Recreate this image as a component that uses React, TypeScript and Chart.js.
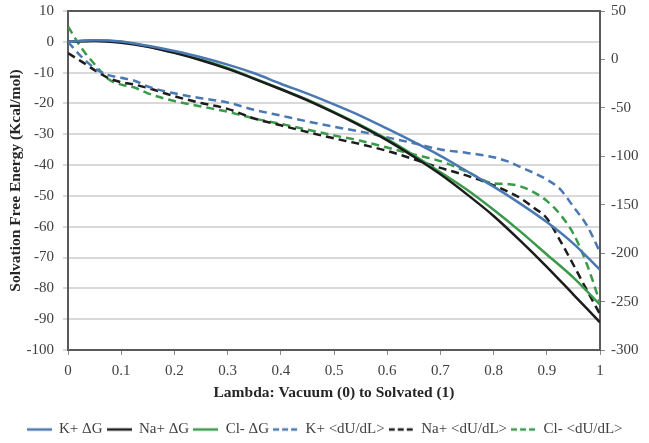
import { useEffect, useRef } from "react";
import { Chart, registerables } from "chart.js";

Chart.register(...registerables);

// Lambda values (x) for the free-energy curves
const lambdaG = [0, 0.05, 0.1, 0.15, 0.2, 0.25, 0.3, 0.35, 0.4, 0.45, 0.5, 0.55, 0.6, 0.65, 0.7, 0.75, 0.8, 0.85, 0.9, 0.95, 1];
const kG = [0, 0.5, 0.1, -1.3, -3.0, -5.0, -7.4, -10.2, -13.6, -16.8, -20.3, -24, -28.2, -32.5, -37, -42, -47, -52.5, -58.5, -65.5, -74];
const naG = [0, 0.3, -0.3, -1.6, -3.6, -6.0, -8.8, -12.0, -15.4, -19, -23, -27.3, -32, -37.3, -43, -49.5, -56.5, -64.5, -73, -82, -91];
const clG = [0, 0.5, 0, -1.5, -3.5, -5.8, -8.5, -11.9, -15.3, -18.8, -22.8, -27, -31.6, -36.8, -42.3, -48, -54.5, -61.5, -69, -76.5, -85.3];

// Lambda values (x) for the <dU/dL> curves
const lambdaU = [0, 0.025, 0.05, 0.075, 0.1, 0.125, 0.15, 0.2, 0.25, 0.3, 0.35, 0.4, 0.45, 0.5, 0.55, 0.6, 0.65, 0.7, 0.75, 0.8, 0.825, 0.85, 0.875, 0.9, 0.925, 0.95, 0.975, 1];
const kU = [18, 3, -9, -16, -19, -22, -28, -35, -40, -44.5, -52, -58, -64, -69.5, -74.5, -80.5, -86.5, -93, -96.5, -101, -105, -111, -117, -124, -134, -152, -171, -199];
const naU = [6.5, -2, -11, -19, -23.5, -26, -29.5, -38, -45, -51, -61, -68, -75, -81.5, -87.5, -94.5, -103, -112, -120, -130, -136, -143, -153, -164, -187, -212, -238, -263];
const clU = [34, 12, -5, -20, -26, -29, -35, -43, -48.5, -54, -61, -66.5, -72.5, -78.5, -84, -91, -98, -105, -116, -128, -128.5, -131, -137, -146, -160, -180, -211, -251];

const seriesLabels = ["K+ ΔG", "Na+ ΔG", "Cl- ΔG", "K+ <dU/dL>", "Na+ <dU/dL>", "Cl- <dU/dL>"];

const BLUE = "#4a78b2";
const BLACK = "#1c1c1c";
const GREEN = "#3a9a4a";
const DASH = [8, 5];

const toPts = (xs: number[], ys: number[]) => xs.map((x, i) => ({ x, y: ys[i] }));

function lineSample(color: string, dashed: boolean) {
  const c = document.createElement("canvas");
  c.width = 25;
  c.height = 6;
  const g = c.getContext("2d")!;
  g.strokeStyle = color;
  g.lineWidth = 2.5;
  if (dashed) g.setLineDash([6, 3]);
  g.beginPath();
  g.moveTo(0, 3);
  g.lineTo(25, 3);
  g.stroke();
  return c;
}

export default function App() {
  const ref = useRef<HTMLCanvasElement>(null);

  useEffect(() => {
    if (!ref.current) return;
    const font = "'Liberation Serif', 'Times New Roman', serif";
    const framePlugin = {
      id: "frame",
      beforeDatasetsDraw(chart: any) {
        const { ctx, chartArea: a } = chart;
        ctx.save();
        ctx.strokeStyle = "#5a5a5a";
        ctx.lineWidth = 2;
        ctx.strokeRect(a.left, a.top, a.right - a.left, a.bottom - a.top);
        ctx.restore();
      },
    };
    const common = { pointRadius: 0, borderWidth: 2.5, fill: false, cubicInterpolationMode: "monotone" as const };
    const samples = [
      lineSample(BLUE, false), lineSample(BLACK, false), lineSample(GREEN, false),
      lineSample(BLUE, true), lineSample(BLACK, true), lineSample(GREEN, true),
    ];
    const chart = new Chart(ref.current, {
      type: "line",
      data: {
        datasets: [
          { label: seriesLabels[0], data: toPts(lambdaG, kG), borderColor: BLUE, backgroundColor: BLUE, yAxisID: "y", ...common },
          { label: seriesLabels[1], data: toPts(lambdaG, naG), borderColor: BLACK, backgroundColor: BLACK, yAxisID: "y", ...common },
          { label: seriesLabels[2], data: toPts(lambdaG, clG), borderColor: GREEN, backgroundColor: GREEN, yAxisID: "y", ...common },
          { label: seriesLabels[3], data: toPts(lambdaU, kU), borderColor: BLUE, backgroundColor: BLUE, borderDash: DASH, yAxisID: "y1", ...common },
          { label: seriesLabels[4], data: toPts(lambdaU, naU), borderColor: BLACK, backgroundColor: BLACK, borderDash: DASH, yAxisID: "y1", ...common },
          { label: seriesLabels[5], data: toPts(lambdaU, clU), borderColor: GREEN, backgroundColor: GREEN, borderDash: DASH, yAxisID: "y1", ...common },
        ],
      },
      options: {
        animation: false,
        responsive: true,
        maintainAspectRatio: false,
        layout: { padding: { top: 11, bottom: 0, left: 0, right: 0 } },
        plugins: {
          tooltip: { enabled: false },
          legend: {
            position: "bottom",
            labels: {
              usePointStyle: true,
              pointStyleWidth: 25,
              padding: 4,
              color: "#404040",
              font: { family: font, size: 15 },
              generateLabels: (ch: any) => {
                const items = Chart.defaults.plugins.legend.labels.generateLabels(ch);
                return items.map((it: any, i: number) => ({ ...it, pointStyle: samples[i] }));
              },
            },
          },
        },
        scales: {
          x: {
            type: "linear",
            min: 0,
            max: 1,
            ticks: {
              stepSize: 0.1,
              color: "#404040",
              font: { family: font, size: 15 },
              padding: 7,
              callback: (v: any) => String(Math.round(Number(v) * 10) / 10),
            },
            grid: { drawOnChartArea: false, drawTicks: true, tickLength: 5, color: "#8a8a8a" },
            border: { color: "#5a5a5a", width: 2 },
            title: { display: true, text: "Lambda: Vacuum (0) to Solvated (1)", color: "#262626", font: { family: font, size: 15.5, weight: "bold" }, padding: { top: 4, bottom: 16 } },
            afterFit: (s: any) => { s.height = 68; },
          },
          y: {
            position: "left",
            min: -100,
            max: 10,
            ticks: { stepSize: 10, color: "#404040", font: { family: font, size: 15 }, padding: 9 },
            grid: { color: "#d9d9d9", lineWidth: 2, tickLength: 5 },
            border: { color: "#5a5a5a", width: 2 },
            title: { display: true, text: "Solvation Free Energy (Kcal/mol)", color: "#262626", font: { family: font, size: 15.5, weight: "bold" }, padding: { top: 7, bottom: 0 } },
            afterFit: (s: any) => { s.width = 68; s.paddingTop = 0; s.paddingBottom = 0; },
          },
          y1: {
            position: "right",
            min: -300,
            max: 50,
            ticks: { stepSize: 50, color: "#404040", font: { family: font, size: 15 }, padding: 6 },
            grid: { drawOnChartArea: false, tickLength: 5, color: "#8a8a8a" },
            border: { color: "#5a5a5a", width: 2 },
            afterFit: (s: any) => { s.width = 49; s.paddingTop = 0; s.paddingBottom = 0; },
          },
        },
      },
      plugins: [framePlugin],
    });
    return () => chart.destroy();
  }, []);

  return (
    <div style={{ position: "absolute", left: 0, top: 0, width: 649, height: 443, overflow: "hidden" }}>
      <div style={{ position: "relative", width: 649, height: 447 }}>
        <canvas ref={ref} />
      </div>
    </div>
  );
}
